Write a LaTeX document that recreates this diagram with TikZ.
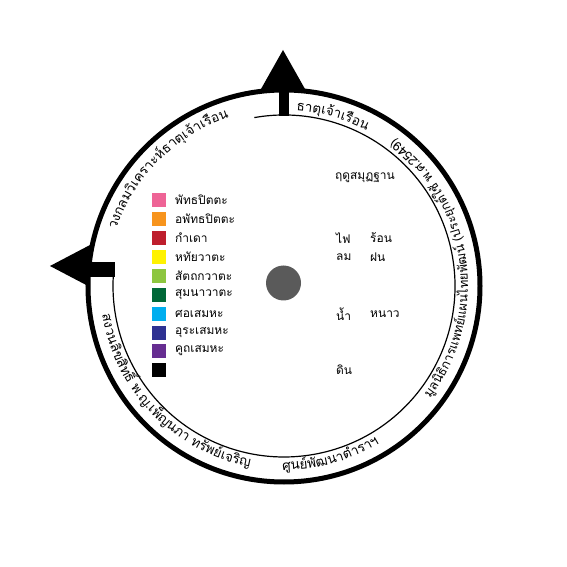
\documentclass[tikz,border=0pt]{standalone}
\usepackage{fontspec}
\newfontfamily\thaifont[Script=Thai]{Loma}
\usetikzlibrary{decorations.text}

\definecolor{pittapink}{RGB}{238,100,150}
\definecolor{apittaorange}{RGB}{247,148,29}
\definecolor{kamdaored}{RGB}{190,30,45}
\definecolor{hataiyellow}{RGB}{255,242,0}
\definecolor{sattakagreen}{RGB}{141,198,63}
\definecolor{sumanagreen}{RGB}{0,104,56}
\definecolor{sorcyan}{RGB}{0,174,239}
\definecolor{uranavy}{RGB}{46,49,146}
\definecolor{khutpurple}{RGB}{102,45,145}
\definecolor{hubgrey}{RGB}{90,90,90}

\tikzset{
  swatch/.style={inner sep=0, minimum size=14bp},
  legendtext/.style={anchor=west, inner sep=0, font=\thaifont\fontsize{12}{14}\selectfont},
}

\begin{document}
\begin{tikzpicture}[x=1bp, y=1bp]
      \useasboundingbox (-284,-281) rectangle (283,286);

      \draw [line width=5bp] (0,0) circle [radius=196];
      \draw [line width=1.2bp] (100:171) arc [start angle=100, end angle=-183, radius=171];

      \fill (-1,236) -- (-23,197) -- (21,197) -- cycle;
      \fill (-5,199) rectangle (5,170);
      \fill (-234,20) -- (-194,41) -- (-194,-1) -- cycle;
      \fill (-196,24) rectangle (-169,9);

      \node [circle, fill=hubgrey, inner sep=0, minimum size=35bp] (hub) at (-0.5,3) {};

      \path [decorate, decoration={text along path, text align=left,
          text={|\thaifont\fontsize{13.5}{15}\selectfont|วงกลม{วิ}เคราะ{ห์}ธา{ตุ}เ{จ้}าเ{รื}อน}}]
        (161.5:177) arc [start angle=161.5, end angle=90, radius=177];
      \path [decorate, decoration={text along path, text align=left,
          text={|\thaifont\fontsize{13.5}{15}\selectfont|ธา{ตุ}เ{จ้}าเ{รื}อน}}]
        (86:176) arc [start angle=86, end angle=35, radius=176];

      \path [decorate, decoration={text along path, text align=left,
          text={|\thaifont\fontsize{13.5}{15}\selectfont|สงวน{ลิ}ข{สิ}ท{ธิ์} พ.ญ.เ{พ็}ญนภา ท{รั}พ{ย์}เจ{ริ}ญ}}]
        (189:184) arc [start angle=189, end angle=275, radius=184];
      \path [decorate, decoration={text along path, text align=left,
          text={|\thaifont\fontsize{13.5}{15}\selectfont|{ศู}น{ย์}{พั}ฒนา{ตำ}ราฯ}}]
        (269.5:184) arc [start angle=269.5, end angle=320, radius=184];
      \path [decorate, decoration={text along path, text align=left,
          text={|\thaifont\fontsize{12.8}{15}\selectfont|{มู}ล{นิ}{ธิ}การแพท{ย์}แผนไทย{พั}ฒ{น์} (ประ{ยุ}ก{ต์}ใ{ช้} พ.ศ.2549)}}]
        (-37.5:184) arc [start angle=-37.5, end angle=75, radius=184];

      \node [swatch, fill=pittapink] (s1) at (-125,86) {};
      \node [swatch, fill=apittaorange] (s2) at (-125,67) {};
      \node [swatch, fill=kamdaored] (s3) at (-125,48) {};
      \node [swatch, fill=hataiyellow] (s4) at (-125,29) {};
      \node [swatch, fill=sattakagreen] (s5) at (-125,10) {};
      \node [swatch, fill=sumanagreen] (s6) at (-125,-9) {};
      \node [swatch, fill=sorcyan] (s7) at (-125,-28) {};
      \node [swatch, fill=uranavy] (s8) at (-125,-47) {};
      \node [swatch, fill=khutpurple] (s9) at (-125,-65) {};
      \node [swatch, fill=black] (s10) at (-125,-84) {};

      \node [legendtext] (t1) at (-109,86) {พัทธปิตตะ};
      \node [legendtext] (t2) at (-109,67) {อพัทธปิตตะ};
      \node [legendtext] (t3) at (-109,48) {กำเดา};
      \node [legendtext] (t4) at (-109,29) {หทัยวาตะ};
      \node [legendtext] (t5) at (-109,10) {สัตถกวาตะ};
      \node [legendtext] (t6) at (-109,-9) {สุมนาวาตะ};
      \node [legendtext] (t7) at (-109,-28) {ศอเสมหะ};
      \node [legendtext] (t8) at (-109,-47) {อุระเสมหะ};
      \node [legendtext] (t9) at (-109,-65) {คูถเสมหะ};

      \node [legendtext] (season) at (51,108) {ฤดูสมุฏฐาน};
      \node [legendtext] (fire) at (52,48) {ไฟ};
      \node [legendtext] (hot) at (86,48) {ร้อน};
      \node [legendtext] (wind) at (52,29) {ลม};
      \node [legendtext] (rain) at (86,29) {ฝน};
      \node [legendtext] (water) at (52,-28) {น้ำ};
      \node [legendtext] (cold) at (86,-28) {หนาว};
      \node [legendtext] (earth) at (52,-84) {ดิน};
  \end{tikzpicture}
\end{document}
